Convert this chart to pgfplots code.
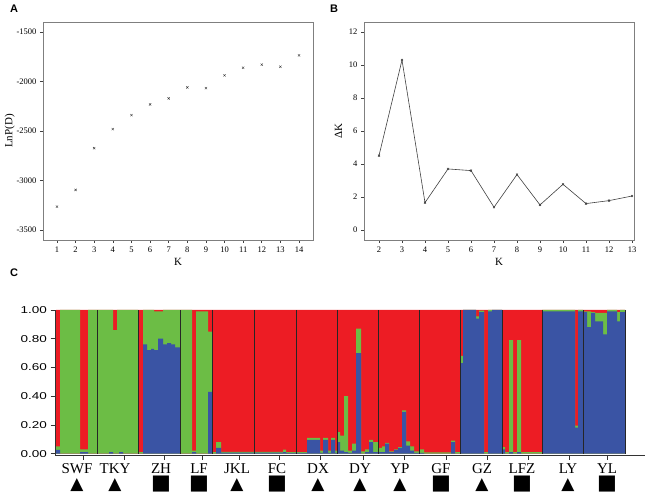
\documentclass[border=0pt]{standalone}
\usepackage{fontspec}
\setmainfont{Liberation Serif}
\newfontfamily\sansf{Liberation Sans}
\newfontfamily\widesans[FakeStretch=1.35]{Liberation Sans}
\newfontfamily\symb{DejaVu Sans}
\usepackage{pgfplots}
\pgfplotsset{compat=1.18}
\definecolor{sred}{HTML}{ED1C24}
\definecolor{sgreen}{HTML}{6CBD45}
\definecolor{sblue}{HTML}{3A54A4}
\definecolor{boxgray}{HTML}{7F7F7F}
\newcommand{\tri}{{\symb\fontsize{17}{17}\selectfont ▲}}
\newcommand{\sq}{{\symb\fontsize{21}{17}\selectfont ■}}
\begin{document}
\begin{tikzpicture}
\path[use as bounding box] (0,0) rectangle (650pt,495pt);
\pgfplotsset{small panel/.style={
  scale only axis, width=270pt, height=218pt,
  axis line style={boxgray, line width=0.8pt},
  tick align=outside, xtick pos=bottom, ytick pos=left,
  major tick length=3pt, tick style={black!75, line width=0.6pt},
  ticklabel style={font=\fontsize{8.5}{9}\selectfont},
  /pgf/number format/assume math mode=true,
  /pgf/number format/1000 sep={},
  label style={font=\fontsize{11}{12}\selectfont},
}}
\node[font=\sansf\bfseries\fontsize{11}{11}\selectfont] at (14pt,486pt) {A};
\node[font=\sansf\bfseries\fontsize{11}{11}\selectfont] at (334pt,486pt) {B};
\node[font=\sansf\bfseries\fontsize{11}{11}\selectfont] at (14pt,222pt) {C};

\begin{axis}[small panel, at={(43pt,255pt)}, anchor=south west,
  xmin=0.25, xmax=14.75, ymin=-3601, ymax=-1399,
  xtick={1,...,14}, ytick={-3500,-3000,-2500,-2000,-1500},
  xlabel={K}, ylabel={LnP(D)}, ylabel shift=-5pt, xlabel shift=-1pt]
\addplot[only marks, mark=x, mark size=1.6pt, black!80, thin] coordinates {
(1,-3264)(2,-3095)(3,-2674)(4,-2481)(5,-2340)(6,-2232)(7,-2171)
(8,-2060)(9,-2067)(10,-1938)(11,-1861)(12,-1830)(13,-1851)(14,-1736)};
\end{axis}

\begin{axis}[small panel, at={(364pt,255pt)}, anchor=south west,
  xmin=1.348, xmax=13.087, ymin=-0.606, ymax=12.606,
  xtick={2,...,13}, ytick={0,2,4,6,8,10,12},
  xlabel={K}, ylabel={ΔK}, xlabel shift=-1pt]
\addplot[black!75, line width=0.6pt, mark=x, mark size=1.4pt] coordinates {
(2,4.51)(3,10.30)(4,1.66)(5,3.70)(6,3.60)(7,1.38)(8,3.36)
(9,1.52)(10,2.77)(11,1.60)(12,1.78)(13,2.06)};
\end{axis}

\begin{axis}[at={(55pt,40pt)}, anchor=south west, scale only axis,
  width=590pt, height=145pt, clip=false,
  xmin=-1, xmax=589, ymin=-0.01, ymax=1,
  axis lines*=left, axis line style={black!80, line width=0.8pt},
  tick align=outside, major tick length=4.5pt,
  tick style={black!80, line width=0.7pt},
  ytick={0,0.2,0.4,0.6,0.8,1},
  yticklabel style={font=\widesans\fontsize{10}{10}\selectfont,
    /pgf/number format/fixed, /pgf/number format/fixed zerofill, /pgf/number format/precision=2},
  /pgf/number format/assume math mode=true,
  xtick={27,68,108,146,183,223,264,307,348,390,431,472,513,551},
  xticklabel={\phantom{0}},
  xticklabel style={align=center, font=\fontsize{15}{15}\selectfont, yshift=-5pt},
  extra x ticks={21,59,105,143,181,221,262,304,344,385,426,466,512,551},
  extra x tick labels={{SWF\\[1pt]\tri},{TKY\\[1pt]\tri},{ZH\\[1pt]\sq},{LF\\[1pt]\sq},
    {JKL\\[1pt]\tri},{FC\\[1pt]\sq},{DX\\[1pt]\tri},{DY\\[1pt]\tri},{YP\\[1pt]\tri},
    {GF\\[1pt]\sq},{GZ\\[1pt]\tri},{LFZ\\[1pt]\sq},{LY\\[1pt]\tri},{YL\\[1pt]\sq}},
  extra x tick style={major tick length=0pt},
]
\addplot[const plot mark left, fill=sred, draw=none] coordinates {(0,1)(569,1)} \closedcycle;
\addplot[const plot mark left, fill=sgreen, draw=none] coordinates {
(0,.05)(4,1)(24,.03)(32,1)(57,.86)(61,1)(82,.01)(87,1)(98,.99)(107,1)
(136,.02)(140,.99)(152,.85)(156,.01)(160,.08)(165,.012)(227,.028)(230,.01)
(251,.11)(264,.02)(267,.11)(272,.02)(275,.11)(279,.02)
(281,.15)(284,.125)(288,.40)(292,.02)(296,.07)(300,.87)(305,.015)(309,.03)(313,.095)(317,.08)
(322,.04)(326,.05)(329,.075)(333,.015)(338,.03)(342,.045)(346,.30)(350,.085)(354,.05)(358,.015)
(363,.03)(368,.008)(395,.09)(399,.01)
(404,.68)(407,1)(420,.955)(423,.995)(428,.01)(432,1)
(446,.045)(449,.01)(453,.79)(457,.01)(461,.79)(465,.01)
(486,1)(519,.195)(522,1)(527,.99)(535,.985)(539,.98)(551,1)(561,.985)(564,1)(569,1)} \closedcycle;
\addplot[const plot mark left, fill=sblue, draw=none] coordinates {
(0,.025)(4,0)(24,.01)(32,0)(53,.01)(57,0)(63,.01)(67,0)
(87,.76)(91,.72)(95,.73)(98,.72)(102,.80)(107,.76)(111,.77)(115,.76)(119,.74)(124,0)
(136,.01)(140,0)(152,.43)(156,0)(160,.04)(165,.006)(227,.01)(230,.005)
(251,.095)(264,.005)(267,.095)(272,.005)(275,.095)(279,.005)
(281,.08)(284,.02)(288,.01)(292,.005)(296,.02)(300,.70)(305,0)(309,.01)(313,.08)(317,.01)
(329,.07)(333,.01)(338,.025)(342,.04)(346,.29)(350,.055)(354,.02)(358,.005)
(368,0)(395,.08)(399,0)
(404,.63)(407,1)(420,.94)(423,.985)(428,0)(432,.99)(436,1)
(446,.03)(449,0)(453,.01)(457,0)(461,.01)(465,0)
(486,.99)(519,.18)(522,.99)(527,.985)(531,.88)(535,.98)(539,.92)(547,.83)(551,.99)(561,.92)(564,.985)(569,0)} \closedcycle;
\addplot[ycomb, black!85, line width=0.7pt, mark=none] coordinates {
(41,1)(82,1)(124,1)(156,1)(198,1)(240,1)(281,1)(322,1)(363,1)(404,1)(446,1)(486,1)(527,1)(569,1)};
\end{axis}
\end{tikzpicture}
\end{document}
